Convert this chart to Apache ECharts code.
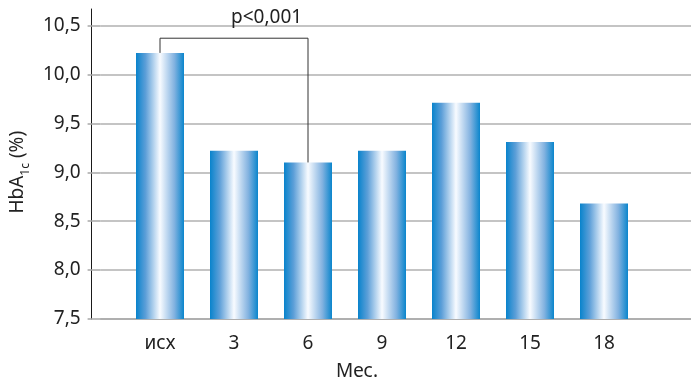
<!DOCTYPE html>
<html>
<head>
<meta charset="utf-8">
<script src="https://cdn.jsdelivr.net/npm/echarts@6/dist/echarts.min.js"></script>
<style>
  html, body { margin: 0; padding: 0; background: #fff; }
  #chart { width: 691px; height: 379px; }
</style>
</head>
<body>
<div id="chart"></div>
<script>
// HbA1c by month of follow-up
const months = ['исх', '3', '6', '9', '12', '15', '18'];
const hba1c = [10.22, 9.22, 9.10, 9.22, 9.71, 9.31, 8.68];
const yTicks = { min: 7.5, max: 10.5, step: 0.5 };

// significance bracket between baseline and month 6
const bracketFrom = 'исх';
const bracketTo = '6';
const bracketLevel = 10.37;
const bracketText = 'p<0,001';

const FONT = 'Noto Sans';
const TEXT = '#222222';

const barGradient = new echarts.graphic.LinearGradient(0, 0, 1, 0, [
  { offset: 0, color: '#0883cc' },
  { offset: 0.2, color: '#5d9fd8' },
  { offset: 0.5, color: '#f8fbff' },
  { offset: 0.8, color: '#82b2e0' },
  { offset: 1, color: '#0a85cc' }
]);

const iFrom = months.indexOf(bracketFrom);
const iTo = months.indexOf(bracketTo);
const bracket = [
  [bracketFrom, hba1c[iFrom]],
  [bracketFrom, bracketLevel],
  [bracketTo, bracketLevel],
  [bracketTo, hba1c[iTo]]
];

const chart = echarts.init(document.getElementById('chart'));
chart.setOption({
  animation: false,
  textStyle: { fontFamily: FONT },
  grid: [
    // bars
    { left: 123, right: 50, top: 25.5, bottom: 60 },
    // value scale, gridlines and baseline
    { left: 91, right: 0, top: 25.5, bottom: 60 },
    // tall vertical axis line
    { left: 91, right: 0, top: 9, bottom: 60 }
  ],
  xAxis: [
    {
      gridIndex: 0, type: 'category', data: months,
      axisLine: { show: false }, axisTick: { show: false },
      axisLabel: { color: TEXT, fontSize: 19, margin: 15, fontFamily: FONT }
    },
    {
      gridIndex: 1, type: 'value', min: 0, max: 1,
      axisLine: { show: true, lineStyle: { color: '#a8a8a8', width: 1.5 } },
      axisTick: { show: false }, axisLabel: { show: false }, splitLine: { show: false }
    },
    {
      gridIndex: 2, type: 'value', min: 0, max: 1, show: false
    }
  ],
  yAxis: [
    {
      gridIndex: 0, type: 'value', min: yTicks.min, max: yTicks.max, interval: yTicks.step,
      show: false
    },
    {
      gridIndex: 1, type: 'value', min: yTicks.min, max: yTicks.max, interval: yTicks.step,
      axisLine: { show: false },
      axisTick: { show: true, inside: false, length: 13, lineStyle: { color: '#a8a8a8', width: 1.5 } },
      splitLine: { show: true, lineStyle: { color: '#b0b0b0', width: 1.5 } },
      axisLabel: {
        color: TEXT, fontSize: 19, margin: 20, fontFamily: FONT,
        formatter: v => v.toFixed(1).replace('.', ',')
      },
      name: '{a|HbA}{s|1c}{a| (%)}',
      nameLocation: 'middle',
      nameGap: 68,
      nameRotate: 90,
      nameTextStyle: {
        color: TEXT,
        rich: {
          a: { fontSize: 19, fontFamily: FONT, color: TEXT, lineHeight: 24, verticalAlign: 'bottom' },
          s: { fontSize: 12, fontFamily: FONT, color: TEXT, lineHeight: 24, verticalAlign: 'bottom', padding: [0, 0, -5, 0] }
        }
      }
    },
    {
      gridIndex: 2, type: 'value', min: 0, max: 1,
      axisLine: { show: true, lineStyle: { color: '#1a1a1a', width: 1 } },
      axisTick: { show: false }, axisLabel: { show: false }, splitLine: { show: false }
    }
  ],
  title: {
    text: 'Мес.', left: 352, top: 357, textAlign: 'center',
    textStyle: { fontSize: 19, fontWeight: 'normal', color: TEXT, fontFamily: FONT }
  },
  graphic: [
    {
      type: 'text', left: 231, top: 8, z: 10,
      style: { text: bracketText, fontSize: 19, fontFamily: FONT, fill: TEXT, textAlign: 'center' }
    }
  ],
  series: [
    {
      type: 'bar', xAxisIndex: 0, yAxisIndex: 0,
      data: hba1c, barWidth: 48,
      itemStyle: { color: barGradient },
      z: 3
    },
    {
      type: 'line', xAxisIndex: 0, yAxisIndex: 0,
      data: bracket, symbol: 'none', silent: true,
      lineStyle: { color: '#333333', width: 1 },
      z: 4
    }
  ]
});
</script>
</body>
</html>
